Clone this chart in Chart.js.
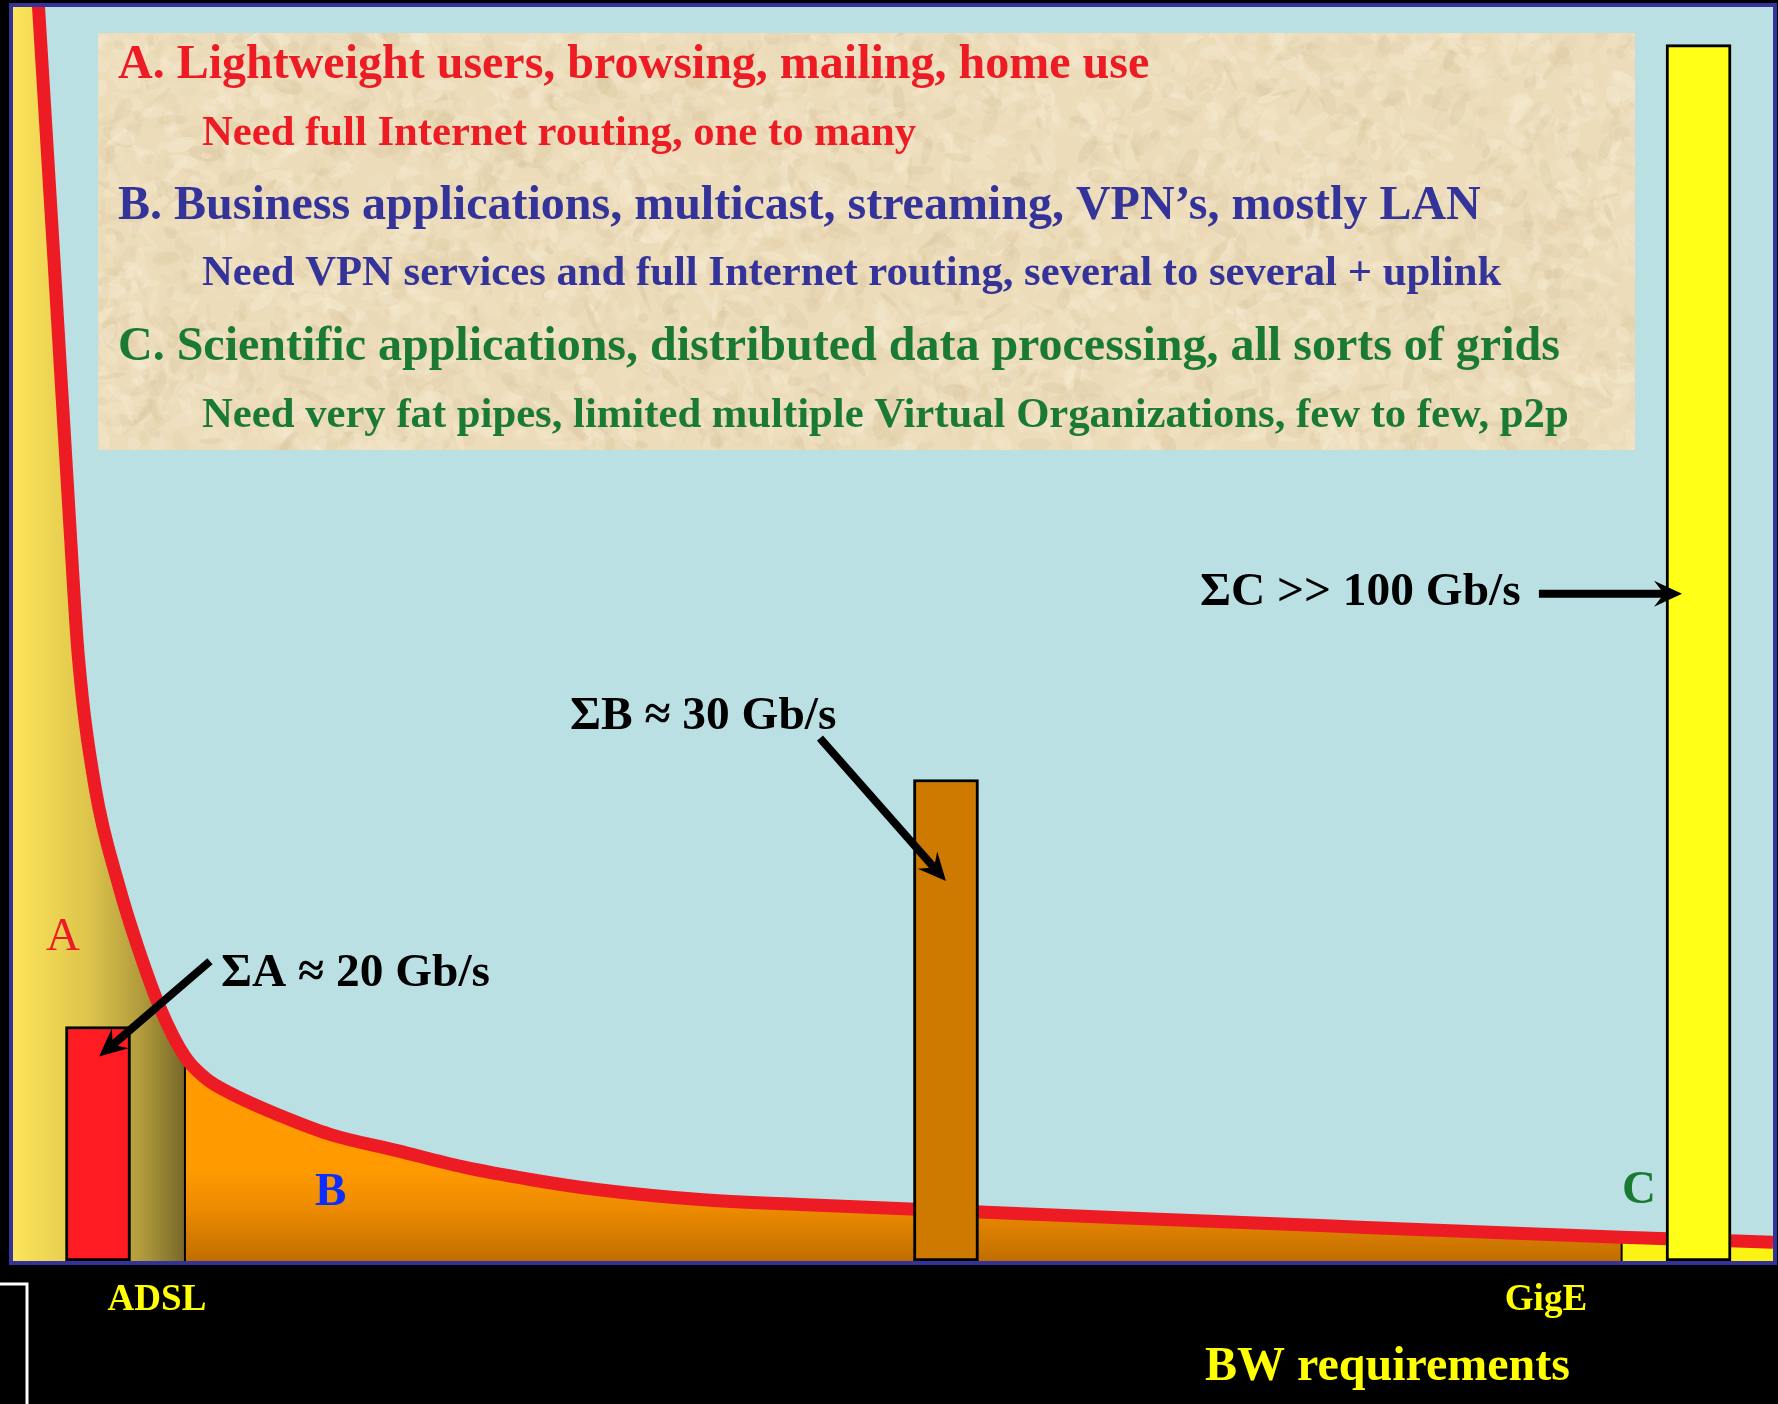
<!DOCTYPE html>
<html>
<head>
<meta charset="utf-8">
<script src="https://cdn.jsdelivr.net/npm/chart.js@4.4.1/dist/chart.umd.min.js"></script>
<style>
html, body { margin: 0; padding: 0; background: #000; }
canvas { display: block; }
</style>
</head>
<body>
<canvas id="graph" width="1778" height="1404"></canvas>
<script>
// demand curve: x = bandwidth per user (arbitrary 0-1000), y = number of users (0-100)
var curveX = [10.1, 14.5, 23.3, 32.4, 37.0, 46.6, 60.8, 71.0, 83.5, 97.7, 109.2, 123.3, 151.7, 180.1, 218.2, 255.7, 293.8, 331.8, 390.3, 447.2, 509.7, 629.0, 765.3, 914.0, 1000];
var curveY = [110, 100, 79.8, 58.4, 48.4, 37.8, 29.6, 25.0, 20.2, 16.3, 14.6, 13.4, 11.6, 10.1, 8.8, 7.5, 6.5, 5.7, 4.9, 4.5, 4.15, 3.45, 2.7, 1.9, 1.5];

// user classes A / B / C split the curve
var zoneNames = ['A', 'B', 'C'];
var zoneEdges = [0, 97.7, 914.0, 1000];

// aggregate bandwidth per class
var sumLabels = ['\u03A3A \u2248 20 Gb/s', '\u03A3B \u2248 30 Gb/s', '\u03A3C >> 100 Gb/s'];
var sumX = [48.3, 530.1, 957.7];
var sumY = [18.7, 38.4, 97.0];

// x-axis markers
var tickLabels = ['ADSL', 'GigE'];
var tickX = [81.8, 871.0];
var axisTitle = 'BW requirements';

var boxLines = [
    'A. Lightweight users, browsing, mailing, home use',
    'Need full Internet routing, one to many',
    'B. Business applications, multicast, streaming, VPN\u2019s, mostly LAN',
    'Need VPN services and full Internet routing, several to several + uplink',
    'C. Scientific applications, distributed data processing, all sorts of grids',
    'Need very fat pipes, limited multiple Virtual Organizations, few to few, p2p'
];

var SERIF = '"Liberation Serif", "Times New Roman", serif';
var RED = '#ed1c24', BLUE = '#333399', GREEN = '#1a7a34';
var zoneTextColors = [RED, '#0a2eff', GREEN];
var barColors = ['#ff1b22', '#ce7a00', '#ffff17'];

// where the call-out texts and arrows sit (data units)
var callouts = [
    {tx: 118.2, ty: 21.9, fx: 111.9, fy: 23.9, ax: 48.9, ay: 16.3},
    {tx: 316.5, ty: 42.4, fx: 458.5, fy: 41.7, ax: 530.1, ay: 30.3},
    {tx: 674.4, ty: 52.3, fx: 867.0, fy: 53.2, ax: 948.3, ay: 53.2}
];
var zoneLabelPos = [[18.8, 24.8], [171.6, 4.5], [914.2, 4.6]];

function curvePoints(lo, hi) {
    var pts = [];
    for (var i = 0; i < curveX.length; i++) {
        if (curveX[i] >= lo && curveX[i] <= hi) pts.push({x: curveX[i], y: curveY[i]});
    }
    return pts;
}

function zoneFill(i) {
    return function(c) {
        var chart = c.chart, a = chart.chartArea;
        if (!a) return null;
        var ctx = chart.ctx, sx = chart.scales.x, sy = chart.scales.y, g;
        if (i == 0) {
            g = ctx.createLinearGradient(sx.getPixelForValue(zoneEdges[0]), 0, sx.getPixelForValue(zoneEdges[1]), 0);
            g.addColorStop(0, '#fde45b');
            g.addColorStop(0.45, '#dcc44b');
            g.addColorStop(0.75, '#b09a3c');
            g.addColorStop(1, '#776829');
            return g;
        }
        if (i == 1) {
            g = ctx.createLinearGradient(0, sy.getPixelForValue(7.3), 0, sy.getPixelForValue(0));
            g.addColorStop(0, '#ff9a00');
            g.addColorStop(0.45, '#ec8a00');
            g.addColorStop(1, '#c06d00');
            return g;
        }
        return '#fbf313';
    };
}

// parchment look for the text box (fixed pseudo-noise, no data involved)
var parchment = null;
function getParchment(w, h) {
    if (parchment) return parchment;
    var cv = document.createElement('canvas');
    cv.width = w; cv.height = h;
    var p = cv.getContext('2d');
    p.fillStyle = '#ecdcba';
    p.fillRect(0, 0, w, h);
    var seed = 12345;
    function rnd() { seed = (seed * 1103515245 + 12345) % 2147483648; return seed / 2147483648; }
    var tones = ['#f6eacf', '#e2cfa9', '#f1e2c3', '#d9c59e', '#f8eed8'];
    for (var i = 0; i < 5000; i++) {
        p.globalAlpha = 0.18 + rnd() * 0.2;
        p.fillStyle = tones[Math.floor(rnd() * tones.length)];
        p.beginPath();
        p.ellipse(rnd() * w, rnd() * h, 3 + rnd() * 14, 2 + rnd() * 6, rnd() * 3.14, 0, 6.283);
        p.fill();
    }
    parchment = cv;
    return cv;
}

var datasets = [];

datasets.push({
    type: 'bar',
    data: sumX.map(function(x, i) { return {x: x, y: sumY[i]}; }),
    backgroundColor: barColors,
    borderColor: '#000',
    borderWidth: 3,
    borderSkipped: false,
    barThickness: 65,
    order: 0
});

datasets.push({
    type: 'line',
    data: curvePoints(0, 1000),
    borderColor: RED,
    borderWidth: 13,
    pointRadius: 0,
    fill: false,
    cubicInterpolationMode: 'monotone',
    order: 1
});

// thin black separators between the zones
for (var z = 1; z < zoneEdges.length - 1; z++) {
    var edgeY = curveY[curveX.indexOf(zoneEdges[z])];
    datasets.push({
        type: 'line',
        data: [{x: zoneEdges[z], y: 0}, {x: zoneEdges[z], y: edgeY}],
        borderColor: '#000',
        borderWidth: 2,
        pointRadius: 0,
        fill: false,
        order: 2
    });
}

for (var z = 0; z < zoneNames.length; z++) {
    var pts = curvePoints(zoneEdges[z], zoneEdges[z + 1]);
    if (z == 0) pts.unshift({x: 0, y: 110});
    datasets.push({
        type: 'line',
        data: pts,
        borderWidth: 0,
        borderColor: 'rgba(0,0,0,0)',
        pointRadius: 0,
        fill: 'origin',
        backgroundColor: zoneFill(z),
        cubicInterpolationMode: 'monotone',
        order: 3
    });
}

function arrow(ctx, x1, y1, x2, y2) {
    var dx = x2 - x1, dy = y2 - y1, len = Math.sqrt(dx * dx + dy * dy);
    var ux = dx / len, uy = dy / len, nx = -uy, ny = ux;
    var L = 28, W = 13, notch = 18;
    ctx.strokeStyle = '#000';
    ctx.fillStyle = '#000';
    ctx.lineWidth = 8;
    ctx.beginPath();
    ctx.moveTo(x1, y1);
    ctx.lineTo(x2 - ux * notch, y2 - uy * notch);
    ctx.stroke();
    ctx.beginPath();
    ctx.moveTo(x2, y2);
    ctx.lineTo(x2 - ux * L + nx * W, y2 - uy * L + ny * W);
    ctx.lineTo(x2 - ux * notch, y2 - uy * notch);
    ctx.lineTo(x2 - ux * L - nx * W, y2 - uy * L - ny * W);
    ctx.closePath();
    ctx.fill();
}

var framePlugin = {
    id: 'frame',
    beforeDraw: function(chart) {
        var ctx = chart.ctx, a = chart.chartArea;
        ctx.save();
        ctx.fillStyle = '#000';
        ctx.fillRect(0, 0, chart.width, chart.height);
        ctx.fillStyle = '#bae0e4';
        ctx.fillRect(a.left, a.top, a.right - a.left, a.bottom - a.top);
        ctx.strokeStyle = '#333399';
        ctx.lineWidth = 4;
        ctx.strokeRect(a.left - 2, a.top - 2, a.right - a.left + 4, a.bottom - a.top + 4);
        ctx.restore();
    }
};

var notesPlugin = {
    id: 'notes',
    afterDatasetsDraw: function(chart) {
        var ctx = chart.ctx, a = chart.chartArea;
        var sx = chart.scales.x, sy = chart.scales.y;
        ctx.save();

        // text box
        ctx.drawImage(getParchment(1537, 417), 98, 33);
        var lineColors = [RED, RED, BLUE, BLUE, GREEN, GREEN];
        var lineY = [78, 145, 219, 285, 360, 427];
        ctx.textBaseline = 'alphabetic';
        ctx.textAlign = 'left';
        for (var i = 0; i < boxLines.length; i++) {
            var sub = i % 2 == 1;
            ctx.font = 'bold ' + (sub ? 42.7 : 48) + 'px ' + SERIF;
            ctx.fillStyle = lineColors[i];
            ctx.fillText(boxLines[i], sub ? 202 : 118, lineY[i]);
        }

        // zone letters
        for (var z = 0; z < zoneNames.length; z++) {
            ctx.font = (z == 0 ? '' : 'bold ') + '47px ' + SERIF;
            ctx.fillStyle = zoneTextColors[z];
            ctx.fillText(zoneNames[z], sx.getPixelForValue(zoneLabelPos[z][0]), sy.getPixelForValue(zoneLabelPos[z][1]));
        }

        // call-outs
        ctx.font = 'bold 47.4px ' + SERIF;
        for (var k = 0; k < callouts.length; k++) {
            var c = callouts[k];
            ctx.fillStyle = '#000';
            ctx.fillText(sumLabels[k], sx.getPixelForValue(c.tx), sy.getPixelForValue(c.ty));
            arrow(ctx, sx.getPixelForValue(c.fx), sy.getPixelForValue(c.fy),
                  sx.getPixelForValue(c.ax), sy.getPixelForValue(c.ay));
        }

        // bottom axis labels
        ctx.fillStyle = '#ffff00';
        ctx.textAlign = 'center';
        ctx.font = 'bold 37px ' + SERIF;
        for (var t = 0; t < tickLabels.length; t++) {
            ctx.fillText(tickLabels[t], sx.getPixelForValue(tickX[t]), a.bottom + 49);
        }
        ctx.textAlign = 'left';
        ctx.font = 'bold 48px ' + SERIF;
        ctx.fillText(axisTitle, 1205, a.bottom + 119);

        // white corner bracket
        ctx.strokeStyle = '#fff';
        ctx.lineWidth = 3;
        ctx.beginPath();
        ctx.moveTo(0, a.bottom + 23);
        ctx.lineTo(27, a.bottom + 23);
        ctx.lineTo(27, chart.height);
        ctx.stroke();

        ctx.restore();
    }
};

new Chart(document.getElementById('graph').getContext('2d'), {
    type: 'line',
    data: {datasets: datasets},
    options: {
        responsive: false,
        animation: false,
        devicePixelRatio: 1,
        layout: {padding: {left: 13, top: 7, right: 5, bottom: 143}},
        scales: {
            x: {type: 'linear', min: 0, max: 1000, offset: false, display: false},
            y: {type: 'linear', min: 0, max: 100, display: false}
        },
        plugins: {
            legend: {display: false},
            tooltip: {enabled: false}
        }
    },
    plugins: [framePlugin, notesPlugin]
});
</script>
</body>
</html>
